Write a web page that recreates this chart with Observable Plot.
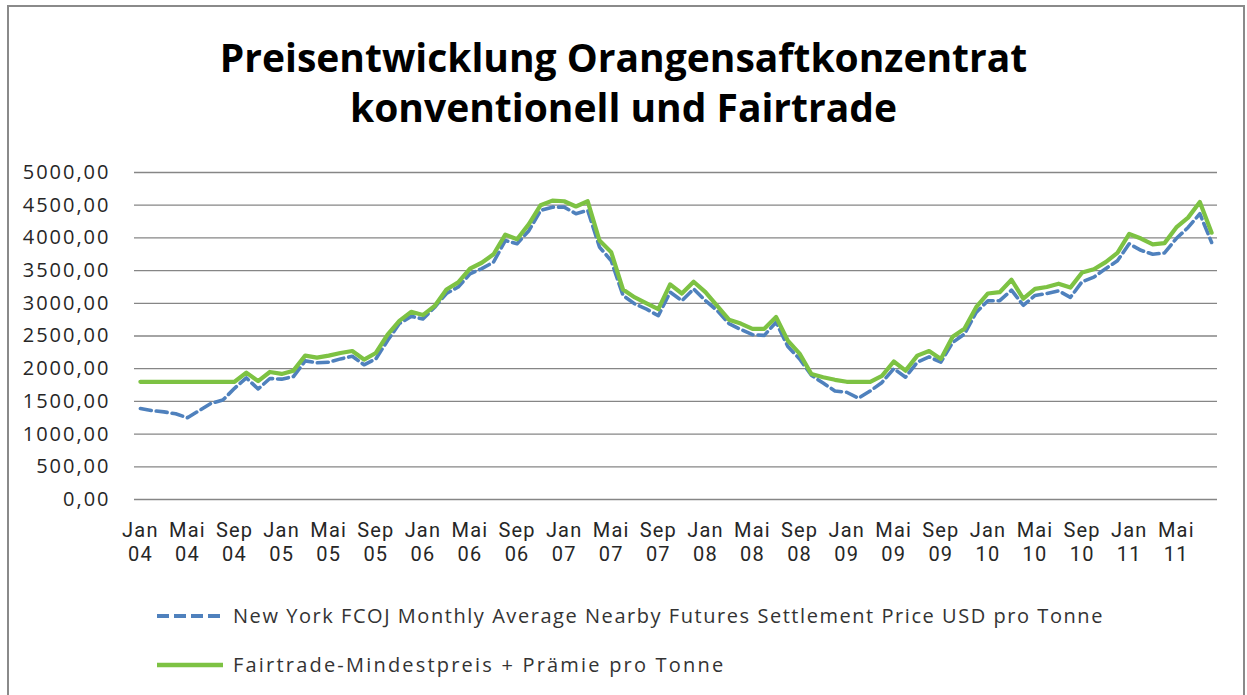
<!DOCTYPE html>
<html><head><meta charset="utf-8">
<script src="https://cdn.jsdelivr.net/npm/d3@7"></script>
<script src="https://cdn.jsdelivr.net/npm/@observablehq/plot@0.6"></script>
<style>
body{margin:0;background:#fff;width:1247px;height:695px;overflow:hidden;position:relative;font-family:"Open Sans",sans-serif;}
#frame{position:absolute;left:7px;top:5px;width:1238px;height:720px;border:2px solid #8a8a8a;box-sizing:border-box;}
#title{position:absolute;left:0;width:1247px;top:32px;text-align:center;font-weight:bold;font-size:39px;line-height:50px;color:#000;}
#chart{position:absolute;left:0;top:150px;}
.legend{position:absolute;left:157px;font-size:20px;line-height:28px;color:#333;display:flex;align-items:center;white-space:nowrap;}
.legend svg{margin-right:10px;}
#lg1{letter-spacing:1.55px;}
#lg2{letter-spacing:2.2px;}
.ylab text{letter-spacing:2px;}
.xlab text{letter-spacing:1.2px;font-family:Roboto,sans-serif;}
</style></head>
<body>
<div id="frame"></div>
<div id="title">Preisentwicklung Orangensaftkonzentrat<br>konventionell und Fairtrade</div>
<div id="chart"></div>
<div class="legend" style="top:602px"><svg width="66" height="10"><line x1="0" y1="5" x2="66" y2="5" stroke="#4F81BD" stroke-width="4" stroke-dasharray="12,5"/></svg><span id="lg1"></span></div>
<div class="legend" style="top:651px"><svg width="66" height="10"><line x1="0" y1="5" x2="66" y2="5" stroke="#7DC243" stroke-width="4.5"/></svg><span id="lg2"></span></div>
<script>
const seriesNames = ["New York FCOJ Monthly Average Nearby Futures Settlement Price USD pro Tonne", "Fairtrade-Mindestpreis + Prämie pro Tonne"];
const monthNames = ["Jan","Feb","Mär","Apr","Mai","Jun","Jul","Aug","Sep","Okt","Nov","Dez"];
const startYear = 2004;
const nyPrice = [1390,1360,1340,1310,1250,1360,1470,1520,1700,1860,1690,1850,
  1840,1880,2120,2090,2100,2150,2190,2060,2150,2430,2690,2800,
  2760,2940,3150,3250,3450,3530,3630,3960,3910,4110,4420,4470,
  4470,4370,4420,3860,3650,3120,2990,2910,2810,3170,3040,3220,
  3040,2890,2690,2600,2520,2510,2710,2340,2150,1900,1780,1660,
  1640,1550,1660,1790,2000,1870,2100,2180,2100,2400,2530,2860,
  3040,3040,3200,2970,3120,3150,3190,3090,3330,3400,3530,3650,
  3910,3810,3750,3770,3990,4160,4370,3930];
const fairtrade = [1800,1800,1800,1800,1800,1800,1800,1800,1800,1940,1810,1950,
  1920,1970,2200,2170,2200,2240,2270,2140,2240,2520,2730,2870,
  2820,2960,3210,3320,3530,3620,3750,4050,3980,4210,4500,4570,
  4560,4480,4560,3960,3780,3210,3090,3000,2910,3290,3150,3330,
  3170,2960,2750,2690,2610,2610,2790,2430,2230,1920,1870,1830,
  1800,1800,1800,1890,2110,1970,2200,2270,2150,2490,2610,2940,
  3150,3170,3360,3070,3220,3250,3300,3240,3470,3520,3630,3770,
  4060,3990,3900,3920,4160,4310,4550,4080];
const tickIndex = [0,4,8,12,16,20,24,28,32,36,40,44,48,52,56,60,64,68,72,76,80,84,88];
const tickLabels = ["Jan 04","Mai 04","Sep 04","Jan 05","Mai 05","Sep 05","Jan 06","Mai 06","Sep 06",
  "Jan 07","Mai 07","Sep 07","Jan 08","Mai 08","Sep 08","Jan 09","Mai 09","Sep 09",
  "Jan 10","Mai 10","Sep 10","Jan 11","Mai 11"];
const yTicks = [0,500,1000,1500,2000,2500,3000,3500,4000,4500,5000];

const categories = nyPrice.map((_, i) => monthNames[i % 12] + " " + String((startYear + Math.floor(i / 12)) % 100).padStart(2, "0"));
const rows = categories.map((c, i) => ({i, cat: c, ny: nyPrice[i], ft: fairtrade[i]}));
const lab = d => tickLabels[tickIndex.indexOf(d)].replace(" ", "\n");

document.getElementById("lg1").textContent = seriesNames[0];
document.getElementById("lg2").textContent = seriesNames[1];

const chart = Plot.plot({
  width: 1247, height: 430,
  marginLeft: 134, marginRight: 30, marginTop: 22, marginBottom: 81,
  style: {fontFamily: "Open Sans, sans-serif", fontSize: "20px", color: "#262626", background: "transparent"},
  x: {type: "linear", domain: [-0.5, 91.5], axis: null},
  y: {domain: [0, 5000], axis: null},
  marks: [
    Plot.gridY(yTicks, {stroke: "#868686", strokeOpacity: 1, strokeWidth: 1.3}),
    Plot.axisY(yTicks, {tickSize: 0, tickPadding: 24, fontSize: 20, label: null, className: "ylab", tickFormat: d => d.toFixed(2).replace(".", ",")}),
    Plot.axisX(tickIndex, {tickSize: 0, tickPadding: 20, fontSize: 20, lineHeight: 1.2, label: null, className: "xlab", tickFormat: lab}),
    Plot.line(rows, {x: "i", y: "ny", stroke: "#4F81BD", strokeWidth: 3.6, strokeDasharray: "11,5", strokeLinejoin: "round"}),
    Plot.line(rows, {x: "i", y: "ft", stroke: "#7DC243", strokeWidth: 4.2, strokeLinejoin: "round"})
  ]
});
document.getElementById("chart").appendChild(chart);
</script>
</body></html>
